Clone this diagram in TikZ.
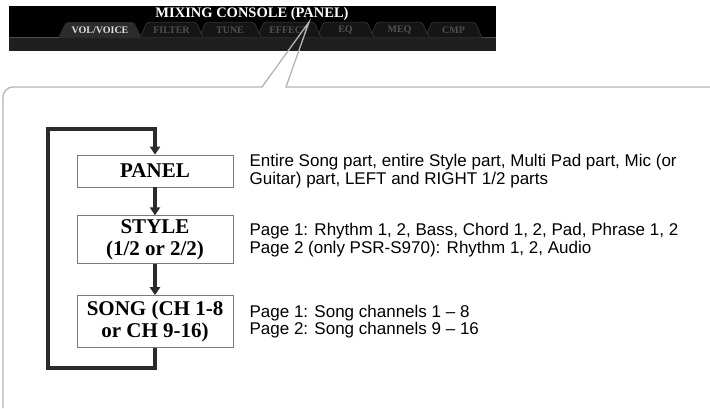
\documentclass[tikz,border=0pt]{standalone}
\usepackage{fontspec}
\setmainfont{Liberation Serif}
\newfontfamily\descfont{Liberation Sans}
\usepackage{xcolor}
\definecolor{framegray}{HTML}{B4B4B4}
\definecolor{linkgray}{HTML}{2B2B2B}
\definecolor{boxgray}{HTML}{7A7A7A}
\definecolor{tabdark}{HTML}{151515}
\definecolor{tabactive}{HTML}{2C2C2C}
\definecolor{bandgray}{HTML}{1F1F1F}
\definecolor{tabtext}{HTML}{505050}
\usepackage{tikz}
\usetikzlibrary{arrows.meta,positioning}

\begin{document}
\begin{tikzpicture}[
  x=1pt, y=-1pt,
  node distance=28pt and 16pt,
  part/.style={draw=boxgray, line width=0.8pt, fill=white, align=center,
               minimum width=156pt, inner sep=2pt,
               font=\bfseries\fontsize{21}{22}\selectfont},
  desc/.style={align=left, inner sep=0pt,
               font=\descfont\fontsize{17}{17.6}\selectfont},
  tab/.style={fill=tabdark, draw=black!75, rounded corners=2pt, line width=0.5pt},
  tablabel/.style={font=\bfseries\fontsize{10}{10}\selectfont, text=tabtext,
                   inner sep=0pt},
  arr/.style={-{Triangle[width=10pt,length=8pt]}, draw=linkgray, line width=3.2pt},
  ret/.style={arr, line join=miter},
  callout/.style={draw=framegray, line width=1.3pt, line join=miter}
]
\useasboundingbox (0,0) rectangle (710,408);

% screen header
\fill[black] (9,6) rectangle (496,51);
\fill[bandgray] (9,38) rectangle (496,51);
\draw[black!70!white, line width=0.6pt] (9,37.7) -- (496,37.7);
\foreach \xa/\xb/\lbl in {425/478/CMP, 370/425/MEQ, 317/370/EQ,
                         257/317/EFFECT, 199/257/TUNE, 140/199/FILTER} {
  \draw[tab] (\xa,37.5) -- (\xa+7,22) -- (\xb-3,22) -- (\xb+4,37.5);
  \node[tablabel] (tab-\lbl) at ({(\xa+\xb)/2+2},30) {\lbl};
}
\fill[tabactive, rounded corners=2pt] (58,38) -- (66,22) -- (134,22) -- (142,38) -- cycle;
\node[tablabel, text=black!12] (tab-vol) at (100,30) {VOL/VOICE};
\node[anchor=base, text=white, inner sep=0pt,
      font=\bfseries\fontsize{14.5}{15}\selectfont] (title) at (252,17)
      {MIXING CONSOLE (PANEL)};

% callout frame
\draw[callout] (3,408) -- (3,97) arc[start angle=180, end angle=270, radius=10]
  -- (262,87) -- (309,22) -- (286,87) -- (710,87);

% flow of parts
\node[part, minimum height=32pt] (panel) at (155,171) {PANEL};
\node[part, minimum height=48pt, below=of panel] (style) {STYLE\\(1/2 or 2/2)};
\node[part, minimum height=52pt, below=31pt of style] (song) {SONG (CH 1-8\\or CH 9-16)};

\node[desc, right=of panel] (panelinfo) {Entire Song part, entire Style part, Multi Pad part, Mic (or\\Guitar) part, LEFT and RIGHT 1/2 parts};
\node[desc, right=of style] (styleinfo) {Page 1: Rhythm 1, 2, Bass, Chord 1, 2, Pad, Phrase 1, 2\\Page 2 (only PSR-S970): Rhythm 1, 2, Audio};
\node[desc, right=of song] (songinfo) {Page 1: Song channels 1 – 8\\Page 2: Song channels 9 – 16};

\coordinate (retlow) at (48,368);
\coordinate (rethigh) at (48,129);

\draw[arr] (panel) -- (style);
\draw[arr] (style) -- (song);
\draw[ret] (song.south) |- (retlow) -- (rethigh) -| (panel.north);
\end{tikzpicture}
\end{document}
